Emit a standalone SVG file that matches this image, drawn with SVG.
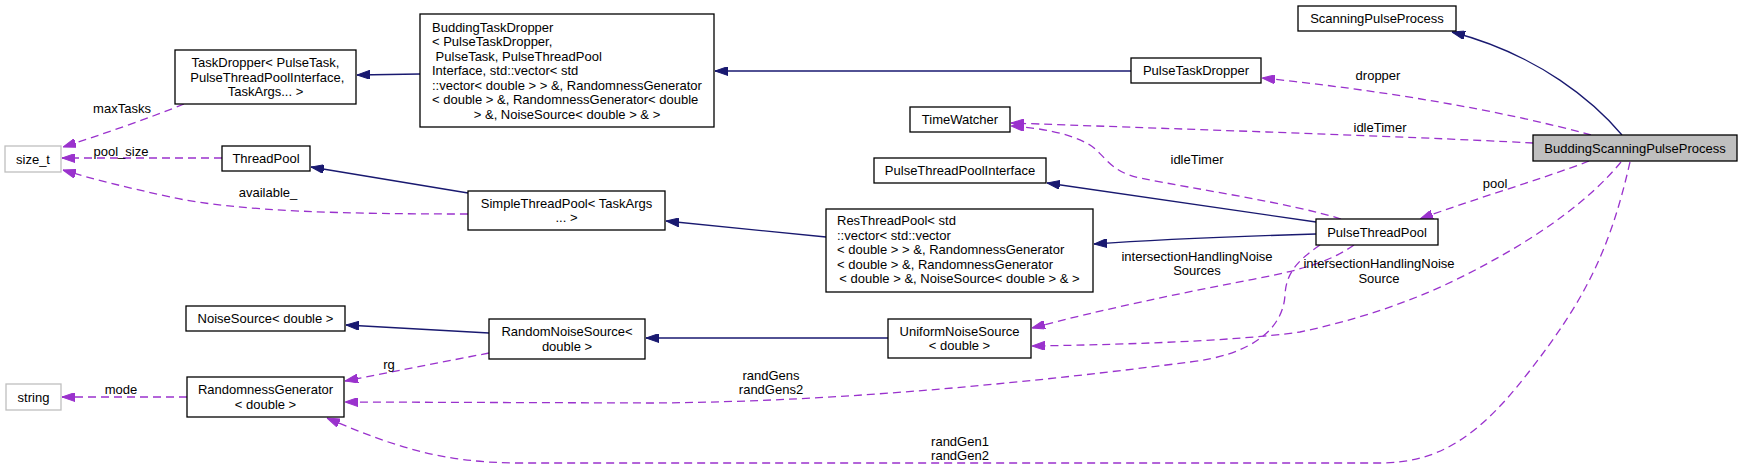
<svg xmlns="http://www.w3.org/2000/svg" width="1743" height="469" viewBox="0 0 1743 469">
<style>
text{font-family:"Liberation Sans",Arial,Helvetica,sans-serif;font-size:13px;fill:#000}
.n rect{fill:#fff;stroke:#000;stroke-width:1.3}
.n.g rect{stroke:#bfbfbf}
.n.hl rect{fill:#bfbfbf}
.c{text-anchor:middle}
.inh{fill:none;stroke:#191970;stroke-width:1.3;marker-end:url(#an)}
.use{fill:none;stroke:#9a32cd;stroke-width:1.3;stroke-dasharray:8,5;marker-end:url(#ap)}
</style>
<defs>
<marker id="an" viewBox="0 0 13 9" refX="13" refY="4.5" markerWidth="13" markerHeight="9" markerUnits="userSpaceOnUse" orient="auto"><path d="M0,0 L13,4.5 L0,9 z" fill="#191970" stroke="#191970" stroke-width="1"/></marker>
<marker id="ap" viewBox="0 0 13 9" refX="13" refY="4.5" markerWidth="13" markerHeight="9" markerUnits="userSpaceOnUse" orient="auto"><path d="M0,0 L13,4.5 L0,9 z" fill="#9a32cd" stroke="#9a32cd" stroke-width="1"/></marker>
</defs>
<rect width="1743" height="469" fill="#fff"/>
<g id="edges">
<path class="inh" d="M1622,135 C1595,103 1540,55 1452,32"/>
<path class="use" d="M1591,135 C1500,110 1380,90 1262,78"/>
<path class="use" d="M1533,143 C1400,136 1150,128 1011,123"/>
<path class="use" d="M1341,219 C1290,203 1200,190 1140,178 C1110,172 1105,155 1090,145 C1070,133 1040,128 1011,126"/>
<path class="inh" d="M1316,222 L1047,183"/>
<path class="inh" d="M1316,234 C1250,236 1150,240 1094,244"/>
<path class="use" d="M1589,161 C1540,180 1470,200 1420,219"/>
<path class="use" d="M1354,245 C1330,262 1300,270 1260,278 C1180,293 1100,310 1032,328"/>
<path class="use" d="M1621,162 C1590,200 1540,235 1490,262 C1440,290 1380,315 1300,332 C1230,342 1100,345 1032,346"/>
<path class="use" d="M1320,245 C1295,262 1286,275 1285,295 C1283,330 1250,355 1190,362 C1050,380 850,402 650,403 L345,402"/>
<path class="use" d="M1630,162 C1610,250 1585,300 1528,373 C1480,435 1440,463 1380,463 L520,463 C440,463 390,445 327,418"/>
<path class="use" d="M187,397 L62,397"/>
<path class="use" d="M489,353 L345,381"/>
<path class="inh" d="M489,333 L346,325"/>
<path class="inh" d="M888,338 L646,338"/>
<path class="inh" d="M826,237 L666,221"/>
<path class="inh" d="M468,193 L311,167"/>
<path class="inh" d="M420,74 L357,75"/>
<path class="inh" d="M1131,71 L715,71"/>
<path class="use" d="M184,104 C150,118 100,135 63,147"/>
<path class="use" d="M222,158 L62,158"/>
<path class="use" d="M468,214 C350,214 240,212 170,197 C130,188 95,180 63,170"/>
<g class="c">
<text x="1378" y="79.5">dropper</text>
<text x="1380" y="131.5">idleTimer</text>
<text x="1197" y="163.5">idleTimer</text>
<text x="1495" y="187.5">pool</text>
<text x="1197" y="260.5">intersectionHandlingNoise</text>
<text x="1197" y="275">Sources</text>
<text x="1379" y="268">intersectionHandlingNoise</text>
<text x="1379" y="282.5">Source</text>
<text x="771" y="379.5">randGens</text>
<text x="771" y="393.5">randGens2</text>
<text x="960" y="445.5">randGen1</text>
<text x="960" y="460">randGen2</text>
<text x="122" y="112.5">maxTasks</text>
<text x="121" y="155.5">pool_size</text>
<text x="268" y="196.5">available_</text>
<text x="121" y="393.5">mode</text>
<text x="389" y="368.5">rg</text>
</g>
</g>
<g id="BuddingScanningPulseProcess" class="n hl"><rect x="1533" y="135" width="204" height="26"/><text class="c" x="1635" y="152.5">BuddingScanningPulseProcess</text></g>
<g id="ScanningPulseProcess" class="n"><rect x="1298" y="6" width="158" height="25"/><text class="c" x="1377" y="23">ScanningPulseProcess</text></g>
<g id="PulseTaskDropper" class="n"><rect x="1131" y="58" width="130" height="25"/><text class="c" x="1196" y="75">PulseTaskDropper</text></g>
<g id="TimeWatcher" class="n"><rect x="910" y="107" width="100" height="25"/><text class="c" x="960" y="124">TimeWatcher</text></g>
<g id="PulseThreadPoolInterface" class="n"><rect x="874" y="158" width="172" height="25"/><text class="c" x="960" y="175">PulseThreadPoolInterface</text></g>
<g id="PulseThreadPool" class="n"><rect x="1316" y="219" width="122" height="26"/><text class="c" x="1377" y="236.5">PulseThreadPool</text></g>
<g id="ResThreadPool" class="n"><rect x="826" y="209" width="267" height="83"/>
<text x="837" y="225">ResThreadPool&lt; std</text>
<text x="837" y="239.5">::vector&lt; std::vector</text>
<text x="837" y="254">&lt; double &gt; &gt; &amp;, RandomnessGenerator</text>
<text x="837" y="268.5">&lt; double &gt; &amp;, RandomnessGenerator</text>
<text class="c" x="959.5" y="283">&lt; double &gt; &amp;, NoiseSource&lt; double &gt; &amp; &gt;</text></g>
<g id="UniformNoiseSource" class="n"><rect x="888" y="319" width="143" height="39"/><text class="c" x="959.5" y="335.5">UniformNoiseSource</text><text class="c" x="959.5" y="350">&lt; double &gt;</text></g>
<g id="BuddingTaskDropper" class="n"><rect x="420" y="14" width="294" height="113"/>
<text x="432" y="31.5">BuddingTaskDropper</text>
<text x="432" y="46">&lt; PulseTaskDropper,</text>
<text x="432" y="60.5" xml:space="preserve"> PulseTask, PulseThreadPool</text>
<text x="432" y="75">Interface, std::vector&lt; std</text>
<text x="432" y="89.5">::vector&lt; double &gt; &gt; &amp;, RandomnessGenerator</text>
<text x="432" y="104">&lt; double &gt; &amp;, RandomnessGenerator&lt; double</text>
<text class="c" x="567" y="118.5">&gt; &amp;, NoiseSource&lt; double &gt; &amp; &gt;</text></g>
<g id="TaskDropper" class="n"><rect x="175" y="50" width="181" height="54"/>
<text class="c" x="265.5" y="67">TaskDropper&lt; PulseTask,</text>
<text class="c" x="265.5" y="81.5" xml:space="preserve"> PulseThreadPoolInterface,</text>
<text class="c" x="265.5" y="96">TaskArgs... &gt;</text></g>
<g id="size_t" class="n g"><rect x="5" y="146" width="56" height="26"/><text class="c" x="33" y="163.5">size_t</text></g>
<g id="ThreadPool" class="n"><rect x="222" y="146" width="88" height="25"/><text class="c" x="266" y="163">ThreadPool</text></g>
<g id="SimpleThreadPool" class="n"><rect x="468" y="191" width="197" height="39"/><text class="c" x="566.5" y="207.5">SimpleThreadPool&lt; TaskArgs</text><text class="c" x="566.5" y="222">... &gt;</text></g>
<g id="NoiseSource" class="n"><rect x="186" y="306" width="159" height="25"/><text class="c" x="265.5" y="323">NoiseSource&lt; double &gt;</text></g>
<g id="RandomNoiseSource" class="n"><rect x="489" y="319" width="156" height="40"/><text class="c" x="567" y="336">RandomNoiseSource&lt;</text><text class="c" x="567" y="350.5">double &gt;</text></g>
<g id="RandomnessGenerator" class="n"><rect x="187" y="377" width="157" height="40"/><text class="c" x="265.5" y="394">RandomnessGenerator</text><text class="c" x="265.5" y="408.5">&lt; double &gt;</text></g>
<g id="string" class="n g"><rect x="6" y="384" width="55" height="26"/><text class="c" x="33.5" y="401.5">string</text></g>
</svg>
